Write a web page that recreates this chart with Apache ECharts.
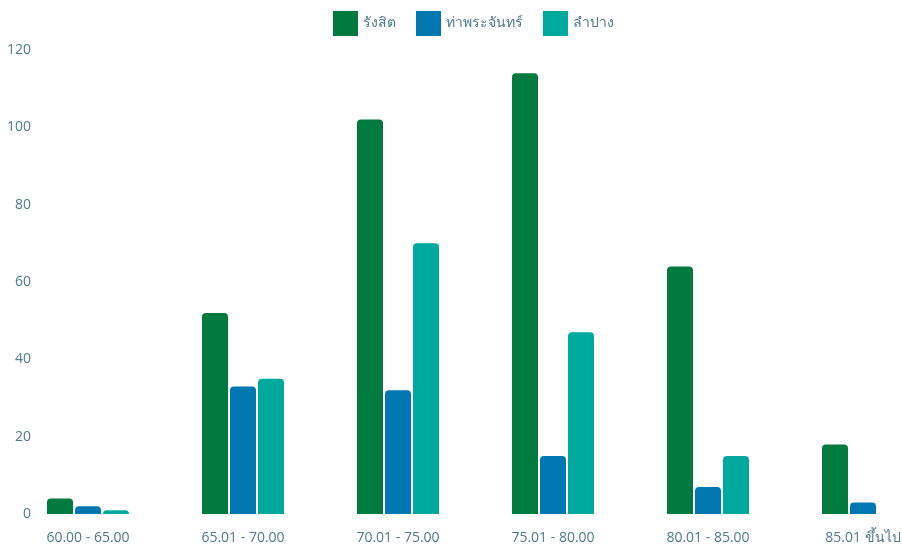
<!DOCTYPE html>
<html><head><meta charset="utf-8">
<script src="https://cdn.jsdelivr.net/npm/echarts@6/dist/echarts.min.js"></script>
<style>html,body{margin:0;padding:0;background:#fff}#c{width:902px;height:546px}</style>
</head><body><div id="c"></div>
<script>
const categories = ['60.00 - 65.00','65.01 - 70.00','70.01 - 75.00','75.01 - 80.00','80.01 - 85.00','85.01 ขึ้นไป'];
const seriesNames = ['รังสิต','ท่าพระจันทร์','ลำปาง'];
const rangsit = [4, 52, 102, 114, 64, 18];
const thaPrachan = [2, 33, 32, 15, 7, 3];
const lampang = [1, 35, 70, 47, 15, 0];
const yTicks = {min: 0, max: 120, interval: 20};
const colors = ['#007a3e','#0077b0','#00a99d'];
const fontFam = '"Open Sans", "Noto Sans", "DejaVu Sans", sans-serif';
const textColor = '#4f7b8c';
const chart = echarts.init(document.getElementById('c'));
const mk = (name, data, i) => ({
  name, type: 'bar', data, barWidth: 26, barGap: '7.7%',
  itemStyle: {color: colors[i], borderRadius: [4,4,0,0]}
});
chart.setOption({
  animation: false,
  legend: {
    top: 6, left: 328, itemWidth: 25, itemHeight: 25, itemGap: 20,
    icon: 'rect',
    textStyle: {color: textColor, fontSize: 14, fontFamily: fontFam}
  },
  grid: {left: 10.5, width: 930, top: 50, height: 464, containLabel: false, outerBoundsMode: 'none'},
  xAxis: {
    type: 'category', data: categories,
    axisLine: {show: false}, axisTick: {show: false},
    axisLabel: {color: textColor, fontSize: 14, fontFamily: fontFam, margin: 17, interval: 0}
  },
  yAxis: {
    type: 'value', min: yTicks.min, max: yTicks.max, interval: yTicks.interval,
    splitLine: {show: false}, axisLine: {show: false}, axisTick: {show: false},
    axisLabel: {inside: true, align: 'right', margin: 20.5, color: textColor, fontSize: 14, fontFamily: fontFam}
  },
  series: [mk(seriesNames[0], rangsit, 0), mk(seriesNames[1], thaPrachan, 1), mk(seriesNames[2], lampang, 2)]
});
</script></body></html>
